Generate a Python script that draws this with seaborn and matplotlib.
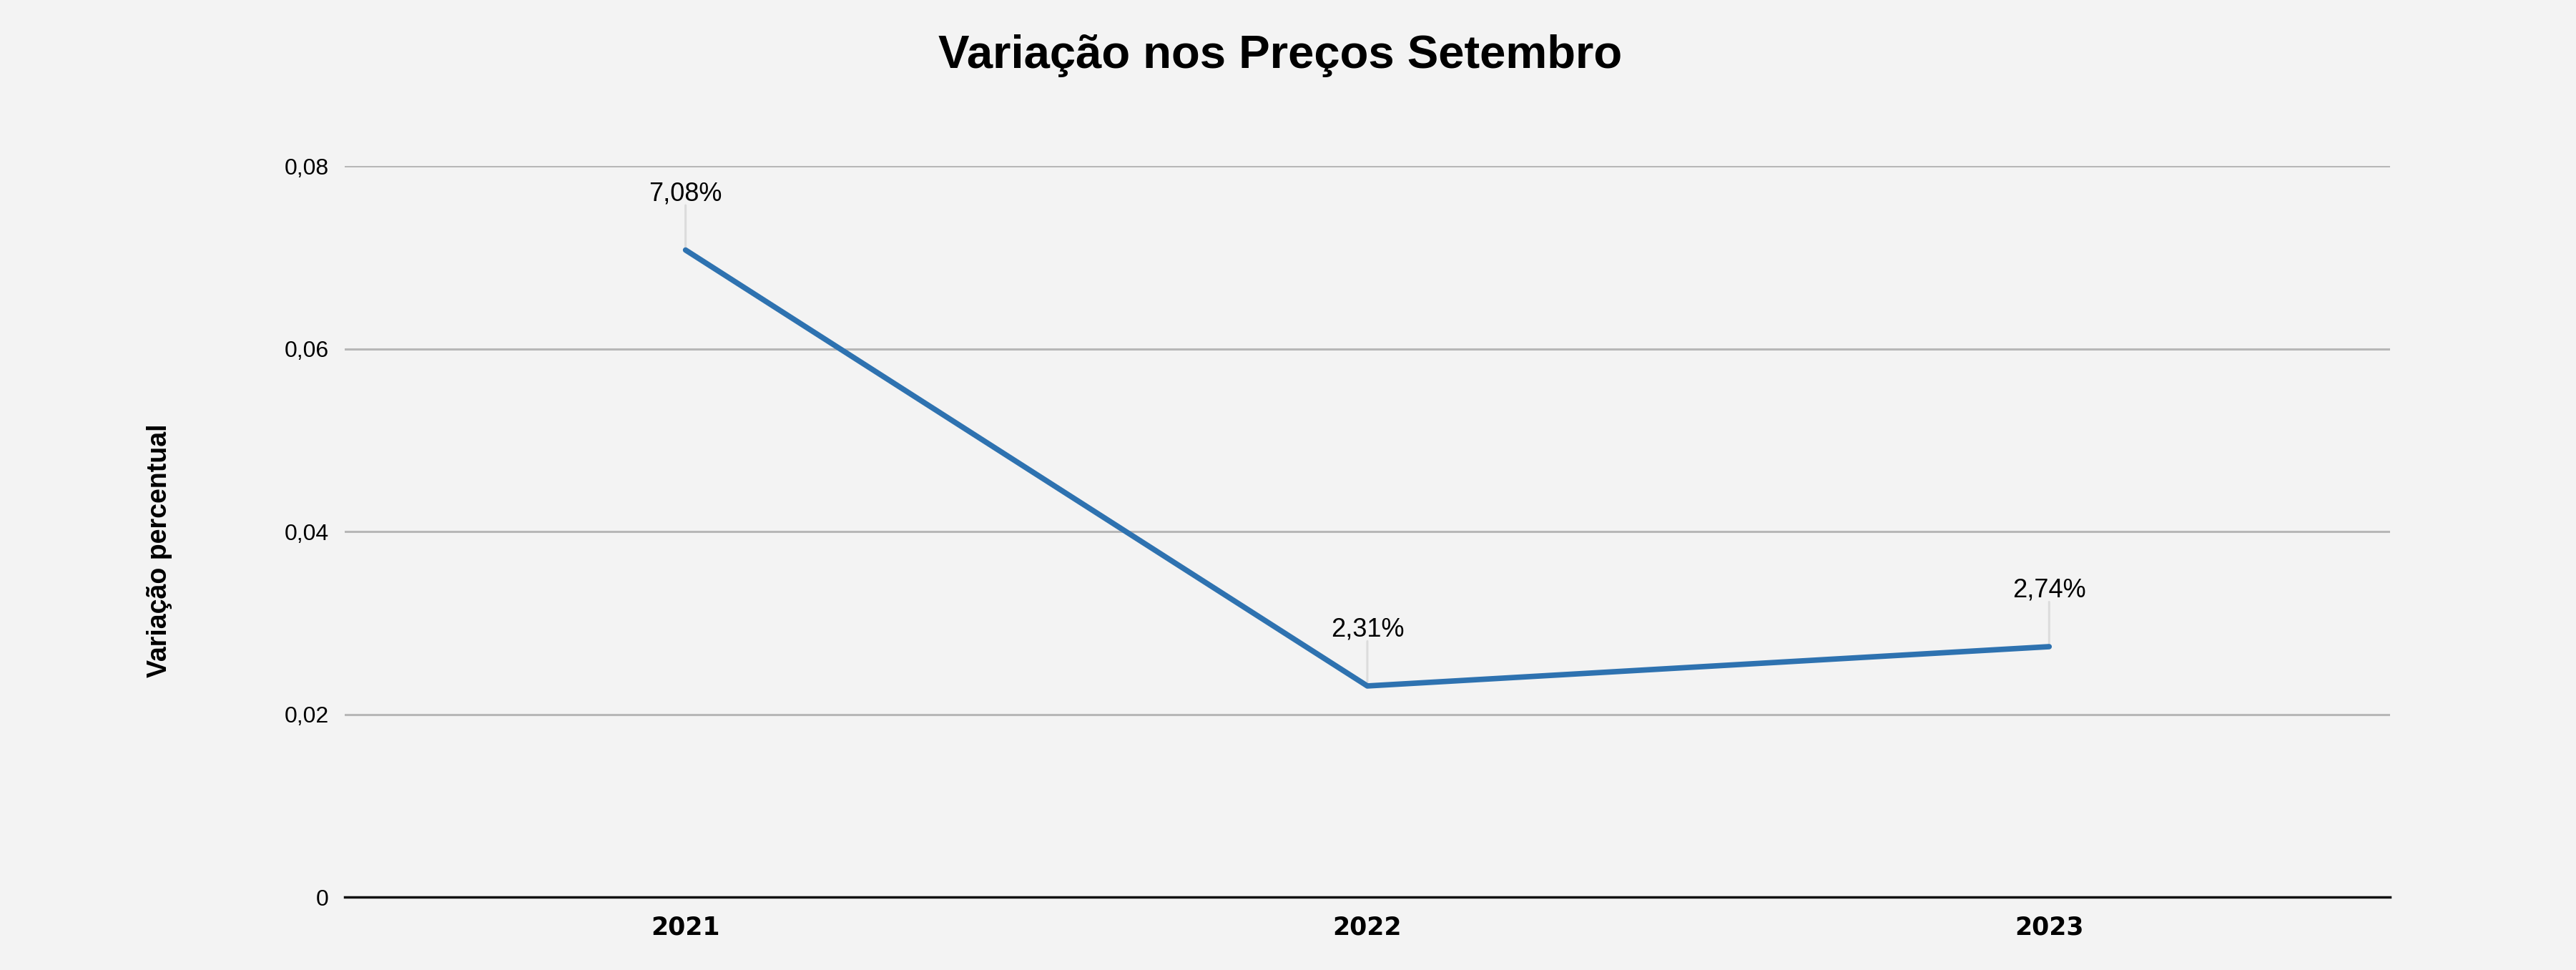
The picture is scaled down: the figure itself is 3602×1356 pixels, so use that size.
import seaborn as sns
import matplotlib.pyplot as plt
import pandas as pd

anos = ['2021', '2022', '2023']
variacao = [0.0708, 0.0231, 0.0274]
rotulos = ['7,08%', '2,31%', '2,74%']
yticks = [0, 0.02, 0.04, 0.06, 0.08]
ytick_labels = ['0', '0,02', '0,04', '0,06', '0,08']

df = pd.DataFrame({'Ano': anos, 'Variacao': variacao})

sns.set_theme(style='whitegrid')
plt.rcParams['font.family'] = ['Liberation Sans', 'DejaVu Sans']
plt.rcParams['text.color'] = 'black'
plt.rcParams['xtick.color'] = 'black'
plt.rcParams['ytick.color'] = 'black'

fig = plt.figure(figsize=(36.02, 13.56), dpi=100, facecolor='#f3f3f3')
ax = fig.add_axes([0.1338, 0.0752, 0.794, 0.7537])
ax.set_facecolor('#f3f3f3')

sns.lineplot(data=df, x='Ano', y='Variacao', color='#2e72b0', linewidth=5.5,
             ax=ax, zorder=3, sort=False)

# rótulos com linha guia
for i, (v, txt) in enumerate(zip(variacao, rotulos)):
    ax.annotate('', xy=(i, v), xytext=(0, 45), textcoords='offset points',
                arrowprops=dict(arrowstyle='-', color='#dcdcdc', lw=2.2,
                                shrinkA=0, shrinkB=0), zorder=2)
    ax.annotate(txt, xy=(i, v), xytext=(0, 50), textcoords='offset points',
                ha='center', va='baseline', fontsize=26, color='black')

ax.set_xlim(-0.5, 2.5)
ax.set_ylim(0, 0.08)
ax.set_yticks(yticks)
ax.set_yticklabels(ytick_labels, fontsize=23)
ax.set_xticks(range(len(anos)))
ax.set_xticklabels(anos, fontsize=25, fontweight='bold', family='DejaVu Sans')
ax.tick_params(axis='y', length=0, pad=16, labelcolor='black')
ax.tick_params(axis='x', length=0, pad=18, labelcolor='black')

ax.grid(axis='x', visible=False)
ax.grid(axis='y', color='#b7b7b7', linewidth=2.2)
for s in ['top', 'right', 'left']:
    ax.spines[s].set_visible(False)
ax.spines['bottom'].set_color('#111111')
ax.spines['bottom'].set_linewidth(2.5)
ax.spines['bottom'].set_zorder(4)

ax.set_xlabel('')
ax.set_ylabel('')
fig.text(0.0619, 0.432, 'Variação percentual', rotation=90, ha='center',
         va='center', fontsize=27, fontweight='bold', color='black')
fig.text(0.497, 0.9425, 'Variação nos Preços Setembro', ha='center',
         va='center', fontsize=47, fontweight='bold', color='black')

fig.savefig('out.png', dpi=100, facecolor='#f3f3f3')
